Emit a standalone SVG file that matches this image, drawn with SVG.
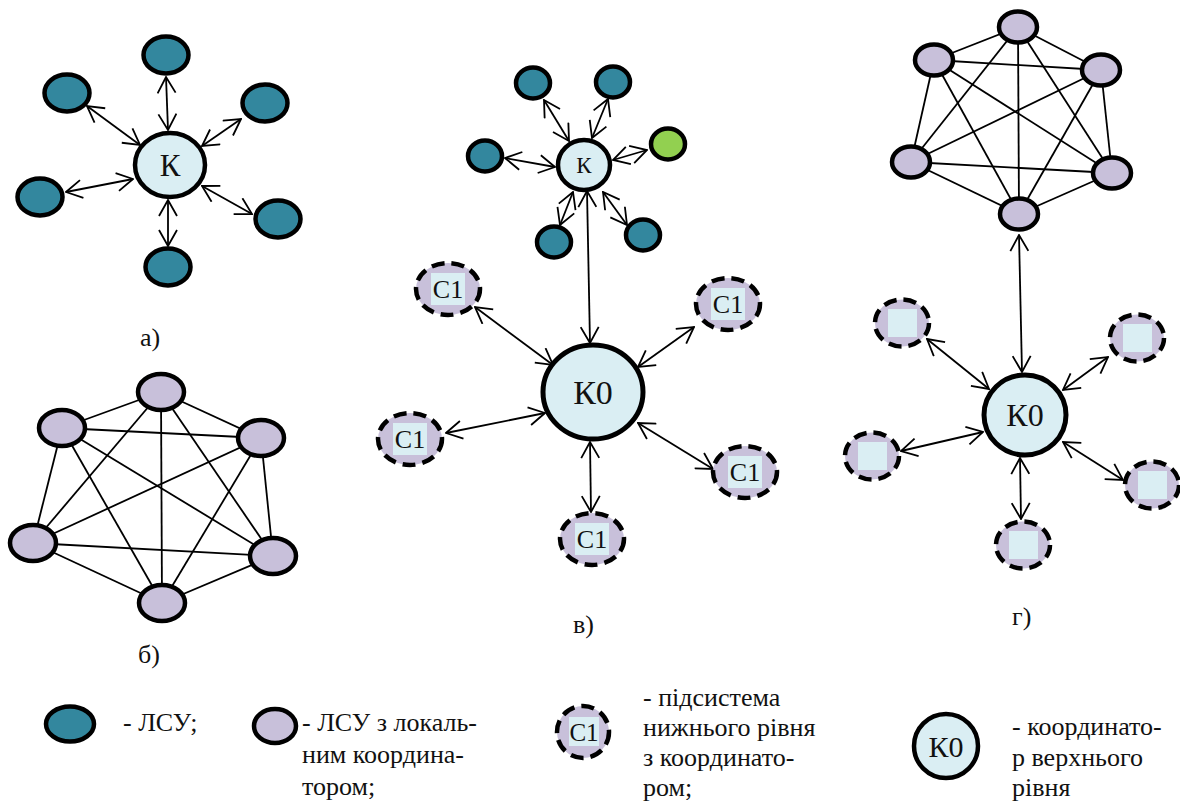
<svg xmlns="http://www.w3.org/2000/svg" width="1180" height="802" viewBox="0 0 1180 802" font-family="'Liberation Serif', 'DejaVu Serif', serif">
<defs>
<marker id="ah" viewBox="0 0 18 20" refX="17" refY="10" markerWidth="18" markerHeight="20" markerUnits="userSpaceOnUse" orient="auto-start-reverse">
<path d="M1,1 L17,10 L1,19" fill="none" stroke="#000" stroke-width="1.8"/>
</marker>
<style>
.teal{fill:#33879e;stroke:#000;stroke-width:4.5}
.green{fill:#92d050;stroke:#000;stroke-width:4.5}
.lav{fill:#c8c0da;stroke:#000;stroke-width:4.5}
.coord{fill:#daeef3;stroke:#000;stroke-width:4.5}
.big{fill:#daeef3;stroke:#000;stroke-width:5}
.sub{fill:#c8c0da;stroke:#000;stroke-width:4.5;stroke-dasharray:13 7}
.inner{fill:#daeef3}
.edge{stroke:#000;stroke-width:1.8;fill:none}
.arr{stroke:#000;stroke-width:1.8;fill:none;marker-start:url(#ah);marker-end:url(#ah)}
text{font-family:"Liberation Serif","DejaVu Serif",serif;fill:#111}
.c{text-anchor:middle}
</style>
</defs>
<rect width="1180" height="802" fill="#fff"/>

<g id="connectors">
<line class="arr" x1="166" y1="77" x2="168" y2="130"/>
<line class="arr" x1="87" y1="106" x2="140" y2="145"/>
<line class="arr" x1="241" y1="119" x2="202" y2="146"/>
<line class="arr" x1="66" y1="192" x2="133" y2="179"/>
<line class="arr" x1="252" y1="214" x2="202" y2="186"/>
<line class="arr" x1="168" y1="246" x2="168" y2="200"/>
<g class="edge">
<line x1="161" y1="392" x2="62" y2="428"/>
<line x1="161" y1="392" x2="261" y2="438"/>
<line x1="161" y1="392" x2="33" y2="543"/>
<line x1="161" y1="392" x2="273" y2="556"/>
<line x1="161" y1="392" x2="162" y2="603"/>
<line x1="62" y1="428" x2="261" y2="438"/>
<line x1="62" y1="428" x2="33" y2="543"/>
<line x1="62" y1="428" x2="273" y2="556"/>
<line x1="62" y1="428" x2="162" y2="603"/>
<line x1="261" y1="438" x2="33" y2="543"/>
<line x1="261" y1="438" x2="273" y2="556"/>
<line x1="261" y1="438" x2="162" y2="603"/>
<line x1="33" y1="543" x2="273" y2="556"/>
<line x1="33" y1="543" x2="162" y2="603"/>
<line x1="273" y1="556" x2="162" y2="603"/>
</g>
<line class="arr" x1="544" y1="100" x2="569" y2="141"/>
<line class="arr" x1="608" y1="99" x2="592" y2="138"/>
<line class="arr" x1="505" y1="158" x2="555" y2="167"/>
<line class="arr" x1="647" y1="150" x2="613" y2="160"/>
<line class="arr" x1="560" y1="225" x2="573" y2="192"/>
<line class="arr" x1="627" y1="225" x2="603" y2="192"/>
<line class="arr" x1="587" y1="191" x2="590" y2="343"/>
<line class="arr" x1="475" y1="307" x2="553" y2="365"/>
<line class="arr" x1="694" y1="327" x2="638" y2="367"/>
<line class="arr" x1="446" y1="433" x2="545" y2="413"/>
<line class="arr" x1="713" y1="469" x2="638" y2="423"/>
<line class="arr" x1="591" y1="512" x2="590" y2="442"/>
<g class="edge">
<line x1="1018" y1="27" x2="934" y2="60"/>
<line x1="1018" y1="27" x2="1101" y2="70"/>
<line x1="1018" y1="27" x2="911" y2="162"/>
<line x1="1018" y1="27" x2="1112" y2="173"/>
<line x1="1018" y1="27" x2="1019" y2="214"/>
<line x1="934" y1="60" x2="1101" y2="70"/>
<line x1="934" y1="60" x2="911" y2="162"/>
<line x1="934" y1="60" x2="1112" y2="173"/>
<line x1="934" y1="60" x2="1019" y2="214"/>
<line x1="1101" y1="70" x2="911" y2="162"/>
<line x1="1101" y1="70" x2="1112" y2="173"/>
<line x1="1101" y1="70" x2="1019" y2="214"/>
<line x1="911" y1="162" x2="1112" y2="173"/>
<line x1="911" y1="162" x2="1019" y2="214"/>
<line x1="1112" y1="173" x2="1019" y2="214"/>
</g>
<line class="arr" x1="1019" y1="235" x2="1022" y2="372"/>
<line class="arr" x1="927" y1="339" x2="989" y2="389"/>
<line class="arr" x1="1108" y1="357" x2="1063" y2="390"/>
<line class="arr" x1="901" y1="451" x2="983" y2="432"/>
<line class="arr" x1="1123" y1="480" x2="1063" y2="442"/>
<line class="arr" x1="1021" y1="519" x2="1020" y2="458"/>
</g>

<g id="a-K"><ellipse class="coord" cx="170" cy="165" rx="35" ry="32"/><text class="c" x="170" y="176" font-size="31">К</text></g>
<g id="a-n1"><ellipse class="teal" cx="166" cy="55" rx="22.5" ry="18.5"/></g>
<g id="a-n2"><ellipse class="teal" cx="67" cy="93" rx="22.5" ry="18.5"/></g>
<g id="a-n3"><ellipse class="teal" cx="265" cy="103" rx="22.5" ry="18.5"/></g>
<g id="a-n4"><ellipse class="teal" cx="40" cy="197" rx="22.5" ry="18.5"/></g>
<g id="a-n5"><ellipse class="teal" cx="278" cy="219" rx="22.5" ry="18.5"/></g>
<g id="a-n6"><ellipse class="teal" cx="168" cy="267" rx="22.5" ry="18.5"/></g>
<text x="140" y="346" font-size="26">а)</text>

<g id="b-n1"><ellipse class="lav" cx="161" cy="392" rx="23" ry="18"/></g>
<g id="b-n2"><ellipse class="lav" cx="62" cy="428" rx="23" ry="18"/></g>
<g id="b-n3"><ellipse class="lav" cx="261" cy="438" rx="23" ry="18"/></g>
<g id="b-n4"><ellipse class="lav" cx="33" cy="543" rx="23" ry="18"/></g>
<g id="b-n5"><ellipse class="lav" cx="273" cy="556" rx="23" ry="18"/></g>
<g id="b-n6"><ellipse class="lav" cx="162" cy="603" rx="23" ry="18"/></g>
<text x="138" y="663" font-size="26">б)</text>

<g id="v-K"><ellipse class="coord" cx="584" cy="165" rx="26" ry="25"/><text class="c" x="584" y="173" font-size="23">К</text></g>
<g id="v-n1"><ellipse class="teal" cx="533" cy="83" rx="17" ry="15.5"/></g>
<g id="v-n2"><ellipse class="teal" cx="613" cy="82" rx="17" ry="15.5"/></g>
<g id="v-n3"><ellipse class="teal" cx="485" cy="156" rx="17" ry="15.5"/></g>
<g id="v-n4"><ellipse class="green" cx="668" cy="144" rx="17" ry="15.5"/></g>
<g id="v-n5"><ellipse class="teal" cx="554" cy="242" rx="17" ry="15.5"/></g>
<g id="v-n6"><ellipse class="teal" cx="643" cy="235" rx="17" ry="15.5"/></g>

<g id="v-K0"><ellipse class="big" cx="593" cy="392" rx="50" ry="47"/><text class="c" x="593" y="404" font-size="34">К0</text></g>
<g id="v-s1"><ellipse class="sub" cx="448" cy="289" rx="32" ry="26"/><rect class="inner" x="431" y="273" width="34" height="32"/><text class="c" x="448" y="298" font-size="26">С1</text></g>
<g id="v-s2"><ellipse class="sub" cx="728" cy="304" rx="32" ry="26"/><rect class="inner" x="711" y="288" width="34" height="32"/><text class="c" x="728" y="313" font-size="26">С1</text></g>
<g id="v-s3"><ellipse class="sub" cx="410" cy="439" rx="32" ry="26"/><rect class="inner" x="393" y="423" width="34" height="32"/><text class="c" x="410" y="448" font-size="26">С1</text></g>
<g id="v-s4"><ellipse class="sub" cx="745" cy="472" rx="32" ry="26"/><rect class="inner" x="728" y="456" width="34" height="32"/><text class="c" x="745" y="481" font-size="26">С1</text></g>
<g id="v-s5"><ellipse class="sub" cx="592" cy="539" rx="32" ry="26"/><rect class="inner" x="575" y="523" width="34" height="32"/><text class="c" x="592" y="548" font-size="26">С1</text></g>
<text x="573" y="633" font-size="26">в)</text>

<g id="g-n1"><ellipse class="lav" cx="1018" cy="27" rx="19" ry="15.5"/></g>
<g id="g-n2"><ellipse class="lav" cx="934" cy="60" rx="19" ry="15.5"/></g>
<g id="g-n3"><ellipse class="lav" cx="1101" cy="70" rx="19" ry="15.5"/></g>
<g id="g-n4"><ellipse class="lav" cx="911" cy="162" rx="19" ry="15.5"/></g>
<g id="g-n5"><ellipse class="lav" cx="1112" cy="173" rx="19" ry="15.5"/></g>
<g id="g-n6"><ellipse class="lav" cx="1019" cy="214" rx="19" ry="15.5"/></g>

<g id="g-K0"><ellipse class="big" cx="1025" cy="415" rx="41" ry="40"/><text class="c" x="1025" y="426" font-size="32">К0</text></g>
<g id="g-s1"><ellipse class="sub" cx="902" cy="323" rx="27" ry="23.5"/><rect class="inner" x="888" y="309" width="29" height="28"/></g>
<g id="g-s2"><ellipse class="sub" cx="1137" cy="338" rx="27" ry="23.5"/><rect class="inner" x="1123" y="324" width="29" height="28"/></g>
<g id="g-s3"><ellipse class="sub" cx="872" cy="456" rx="27" ry="23.5"/><rect class="inner" x="858" y="442" width="29" height="28"/></g>
<g id="g-s4"><ellipse class="sub" cx="1152" cy="485" rx="27" ry="23.5"/><rect class="inner" x="1138" y="471" width="29" height="28"/></g>
<g id="g-s5"><ellipse class="sub" cx="1023" cy="545" rx="27" ry="23.5"/><rect class="inner" x="1009" y="531" width="29" height="28"/></g>
<text x="1012" y="625" font-size="26">г)</text>

<g id="leg-lsu"><ellipse class="teal" cx="70" cy="724" rx="24" ry="17.5"/><text x="123" y="731" font-size="26">- ЛСУ;</text></g>
<g id="leg-lsuk"><ellipse class="lav" cx="275" cy="726" rx="21" ry="17"/>
<text x="302" y="731" font-size="26">- ЛСУ з локаль-</text>
<text x="302" y="763" font-size="26">ним координа-</text>
<text x="302" y="795" font-size="26">тором;</text></g>
<g id="leg-sub"><ellipse class="sub" cx="583" cy="732" rx="26" ry="26"/><rect class="inner" x="569" y="717" width="30" height="29"/><text class="c" x="584" y="741" font-size="25">С1</text>
<text x="643" y="706" font-size="26">- підсистема</text>
<text x="643" y="736" font-size="26">нижнього рівня</text>
<text x="643" y="766" font-size="26">з координато-</text>
<text x="643" y="796" font-size="26">ром;</text></g>
<g id="leg-k0"><ellipse class="coord" cx="946" cy="746" rx="32" ry="32"/><text class="c" x="946" y="757" font-size="30">К0</text>
<text x="1012" y="735" font-size="26">- координато-</text>
<text x="1012" y="766" font-size="26">р верхнього</text>
<text x="1012" y="796" font-size="26">рівня</text></g>
</svg>
